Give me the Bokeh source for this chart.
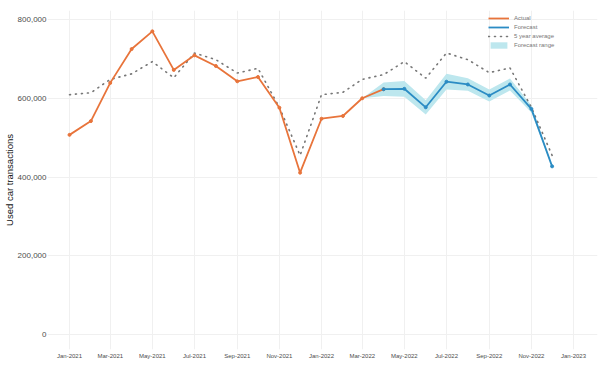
from datetime import datetime, timedelta
import pandas as pd
from bokeh.plotting import figure
from bokeh.models import (ColumnDataSource, Range1d, FixedTicker, DatetimeTickFormatter,
                          NumeralTickFormatter, Legend, LegendItem)
from bokeh.embed import file_html
from bokeh.resources import INLINE

# ---------------- data ----------------
months = ["2021-01", "2021-02", "2021-03", "2021-04", "2021-05", "2021-06",
          "2021-07", "2021-08", "2021-09", "2021-10", "2021-11", "2021-12",
          "2022-01", "2022-02", "2022-03", "2022-04", "2022-05", "2022-06",
          "2022-07", "2022-08", "2022-09", "2022-10", "2022-11", "2022-12"]

actual_months = months[:16]
actual = [507000, 542000, 639000, 725000, 770000, 672000, 709000, 682000,
          643000, 654000, 576000, 411000, 548000, 555000, 600000, 623000]

forecast_months = months[15:]
forecast = [623000, 624000, 577000, 642000, 635000, 607000, 635000, 573000, 427000]

five_year_avg = [609000, 614000, 648000, 662000, 693000, 652000, 715000, 698000,
                 664000, 676000, 577000, 455000,
                 609000, 615000, 648000, 660000, 693000, 651000, 715000, 698000,
                 665000, 677000, 577000, 455000]

range_months = months[14:]
range_lower = [600000, 606000, 604000, 559000, 622000, 619000, 592000, 620000, 564000, 424000]
range_upper = [600000, 640000, 644000, 595000, 662000, 651000, 622000, 650000, 582000, 430000]

tick_dates = ["2021-01", "2021-03", "2021-05", "2021-07", "2021-09", "2021-11",
              "2022-01", "2022-03", "2022-05", "2022-07", "2022-09", "2022-11", "2023-01"]
y_ticks = [0, 200000, 400000, 600000, 800000]

def to_dt(lst):
    return [pd.Timestamp(s + "-01") for s in lst]

def to_ms(lst):
    return [pd.Timestamp(s + "-01").value // 10**6 for s in lst]

src_actual = ColumnDataSource(dict(x=to_dt(actual_months), y=actual))
src_fc = ColumnDataSource(dict(x=to_dt(forecast_months), y=forecast))
src_avg = ColumnDataSource(dict(x=to_dt(months), y=five_year_avg))
src_rng = ColumnDataSource(dict(x=to_dt(range_months), lo=range_lower, hi=range_upper))

ORANGE = "#E8743B"
BLUE = "#2B8CC4"
BAND = "#BDE7EE"
DOT = "#777777"
FONT = "Liberation Sans"

# ---------------- layout ----------------
W, H = 602, 372
FRAME_LEFT_EST = 47          # expected width of the y-axis panel
FRAME_RIGHT = 597
FRAME_TOP, FRAME_BOTTOM = 10, 349
# pixel scale: 504 px for 730 days; 315 px for 800,000
ppd = 504 / 730.0
x0 = datetime(2021, 1, 1) - timedelta(days=(69 - FRAME_LEFT_EST) / ppd)
x1 = datetime(2023, 1, 1) + timedelta(days=(FRAME_RIGHT - 573) / ppd)
ppu = 315 / 800000.0
y1 = (334 - FRAME_TOP) / ppu
y0 = (334 - FRAME_BOTTOM) / ppu

p = figure(width=W, height=H, output_backend="svg", toolbar_location=None,
           x_axis_type="datetime",
           x_range=Range1d(x0, x1), y_range=Range1d(y0, y1),
           min_border_top=FRAME_TOP, min_border_right=W - FRAME_RIGHT,
           min_border_bottom=H - FRAME_BOTTOM, min_border_left=30)
p.outline_line_color = None
p.background_fill_color = "white"
p.border_fill_color = "white"

r_band = p.varea(x="x", y1="lo", y2="hi", source=src_rng, fill_color=BAND, fill_alpha=1.0)
r_avg = p.line(x="x", y="y", source=src_avg, line_color=DOT, line_width=1.6,
               line_dash="1 5", line_cap="round")
r_act = p.line(x="x", y="y", source=src_actual, line_color=ORANGE, line_width=1.8)
p.scatter(x="x", y="y", source=src_actual, color=ORANGE, size=3)
r_fc = p.line(x="x", y="y", source=src_fc, line_color=BLUE, line_width=1.8)
p.scatter(x="x", y="y", source=src_fc, color=BLUE, size=3)

# axes
for ax in (p.xaxis[0], p.yaxis[0]):
    ax.axis_line_color = None
    ax.major_tick_line_color = None
    ax.minor_tick_line_color = None
    ax.major_tick_out = 0
    ax.major_tick_in = 0
    ax.minor_tick_out = 0
    ax.minor_tick_in = 0

xa = p.xaxis[0]
xa.ticker = FixedTicker(ticks=to_ms(tick_dates))
fmt = "%b-%Y"
xa.formatter = DatetimeTickFormatter(microseconds=fmt, milliseconds=fmt, seconds=fmt,
                                     minsec=fmt, minutes=fmt, hourmin=fmt, hours=fmt,
                                     days=fmt, months=fmt, years=fmt)
xa.major_label_text_font = FONT
xa.major_label_text_font_size = "6px"
xa.major_label_text_color = "#4D4D4D"
xa.major_label_standoff = 3

ya = p.yaxis[0]
ya.ticker = FixedTicker(ticks=y_ticks)
ya.formatter = NumeralTickFormatter(format="0,0")
ya.major_label_text_font = FONT
ya.major_label_text_font_size = "8px"
ya.major_label_text_color = "#4D4D4D"
ya.major_label_standoff = 1
ya.axis_label = "Used car transactions"
ya.axis_label_text_font = FONT
ya.axis_label_text_font_size = "9.5px"
ya.axis_label_text_font_style = "normal"
ya.axis_label_text_color = "#111111"
ya.axis_label_standoff = 0

p.xgrid.ticker = FixedTicker(ticks=to_ms(tick_dates))
p.ygrid.ticker = FixedTicker(ticks=y_ticks)
p.xgrid.grid_line_color = "#F0F0F0"
p.ygrid.grid_line_color = "#F0F0F0"
p.xgrid.grid_line_width = 1
p.ygrid.grid_line_width = 1

frame_h = FRAME_BOTTOM - FRAME_TOP
legend = Legend(items=[
    LegendItem(label="Actual", renderers=[r_act]),
    LegendItem(label="Forecast", renderers=[r_fc]),
    LegendItem(label="5 year average", renderers=[r_avg]),
    LegendItem(label="Forecast range", renderers=[r_band]),
], location=(488 - FRAME_LEFT_EST, frame_h - 4 - 35))
legend.label_text_font = FONT
legend.label_text_font_size = "6px"
legend.label_text_color = "#777777"
legend.glyph_width = 21
legend.glyph_height = 8
legend.label_height = 8
legend.label_standoff = 5
legend.spacing = 1
legend.padding = 0
legend.margin = 0
legend.border_line_color = None
legend.background_fill_alpha = 0
p.add_layout(legend, "center")

open("out.html", "w").write(file_html(p, INLINE))
